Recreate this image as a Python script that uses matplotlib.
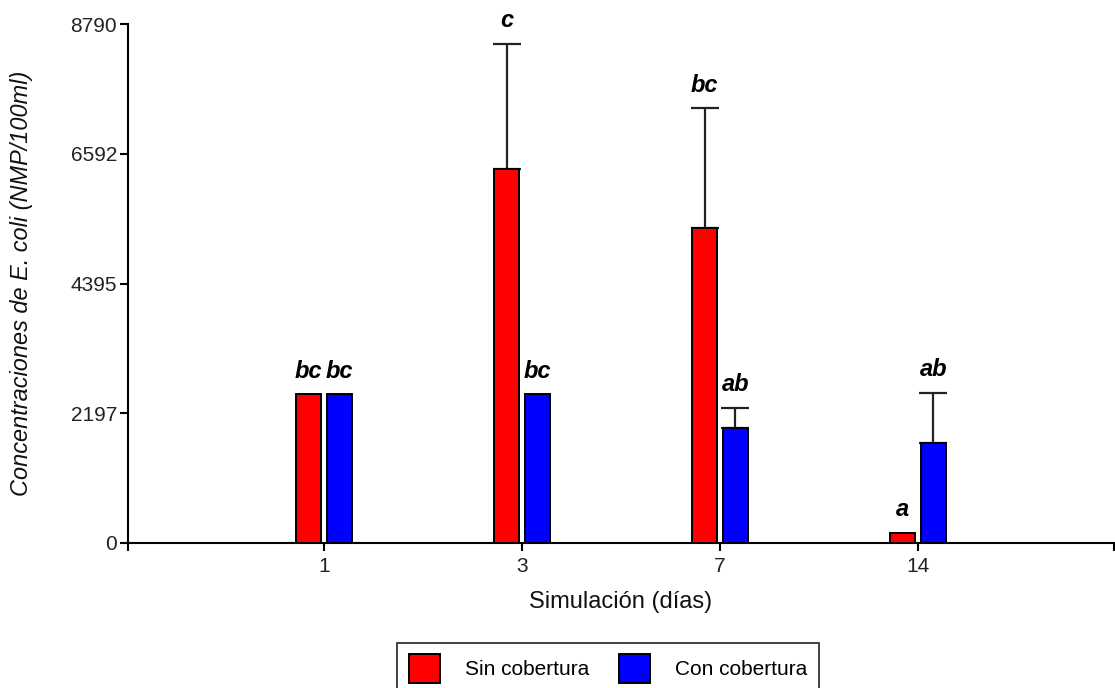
import numpy as np
import matplotlib
matplotlib.use("Agg")
import matplotlib.pyplot as plt
from matplotlib.patches import Patch

plt.rcParams['font.family'] = ['Liberation Sans', 'DejaVu Sans']

# data
days = ['1', '3', '7', '14']
sin_mean = [2520, 6330, 5330, 170]
sin_err = [0, 2120, 2030, 0]
con_mean = [2520, 2520, 1950, 1690]
con_err = [0, 0, 340, 850]
sin_letters = ['bc', 'c', 'bc', 'a']
con_letters = ['bc', 'bc', 'ab', 'ab']
yticks = [0, 2197, 4395, 6592, 8790]

W, H = 1115, 688
fig = plt.figure(figsize=(W / 100, H / 100), dpi=100)
ax = fig.add_axes([128 / W, 1 - 543 / H, (1114 - 128) / W, (543 - 24) / H])

x = np.arange(len(days))
bw = 0.126
off = 0.077


def draw_group(xpos, means, errs, color, letters):
    ax.bar(xpos, means, width=bw, color=color, edgecolor='black',
           linewidth=1.4, zorder=3)
    means = np.array(means)
    errs = np.array(errs)
    has = errs > 0
    ax.errorbar(xpos[has], means[has],
                yerr=[np.zeros(has.sum()), errs[has]],
                fmt='none', ecolor='#222222', elinewidth=1.6,
                capsize=10, capthick=1.6, zorder=2)
    for xi, m, e, lab in zip(xpos, means, errs, letters):
        ax.annotate(lab, (xi, m + e), xytext=(0, 12),
                    textcoords='offset points', ha='center', va='baseline',
                    fontsize=17, fontweight='bold', fontstyle='italic',
                    color='black')


draw_group(x - off, sin_mean, sin_err, '#ff0000', sin_letters)
draw_group(x + off, con_mean, con_err, '#0000ff', con_letters)

ax.set_xlim(-0.99, 3.99)
ax.set_ylim(0, 8790)
ax.set_yticks(yticks)
ax.set_yticklabels([str(t) for t in yticks])
ax.set_xticks(x)
ax.set_xticklabels(days)
ax.set_xticks([-0.99, 3.99], minor=True)

for side in ['top', 'right']:
    ax.spines[side].set_visible(False)
for side in ['left', 'bottom']:
    ax.spines[side].set_linewidth(1.5)
ax.tick_params(axis='both', which='both', direction='out', length=6,
               width=1.5, labelsize=15, colors='black')
ax.tick_params(axis='x', pad=4)
ax.tick_params(axis='y', pad=2)
for lbl in ax.get_xticklabels() + ax.get_yticklabels():
    lbl.set_color('#222222')

ax.set_xlabel('Simulación (días)', fontsize=17, color='#111111')
ax.xaxis.set_label_coords(0.5, -0.093)
ax.set_ylabel('Concentraciones de E. coli (NMP/100ml)', fontsize=16.9,
              fontstyle='italic', color='#111111')
ax.yaxis.set_label_coords(-0.096, 0.5)

handles = [Patch(facecolor='#ff0000', edgecolor='black', linewidth=1.4),
           Patch(facecolor='#0000ff', edgecolor='black', linewidth=1.4)]
leg = fig.legend(handles, ['Sin cobertura', 'Con cobertura'],
                 loc='upper center', bbox_to_anchor=(608 / W, 1 - 643 / H),
                 ncol=2, fontsize=15, frameon=True, fancybox=False,
                 edgecolor='black', handlelength=1.5, handleheight=1.7,
                 handletextpad=1.2, columnspacing=1.4, borderpad=0.55,
                 borderaxespad=0)
leg.get_frame().set_linewidth(1.3)

fig.savefig('out.png', dpi=100)
